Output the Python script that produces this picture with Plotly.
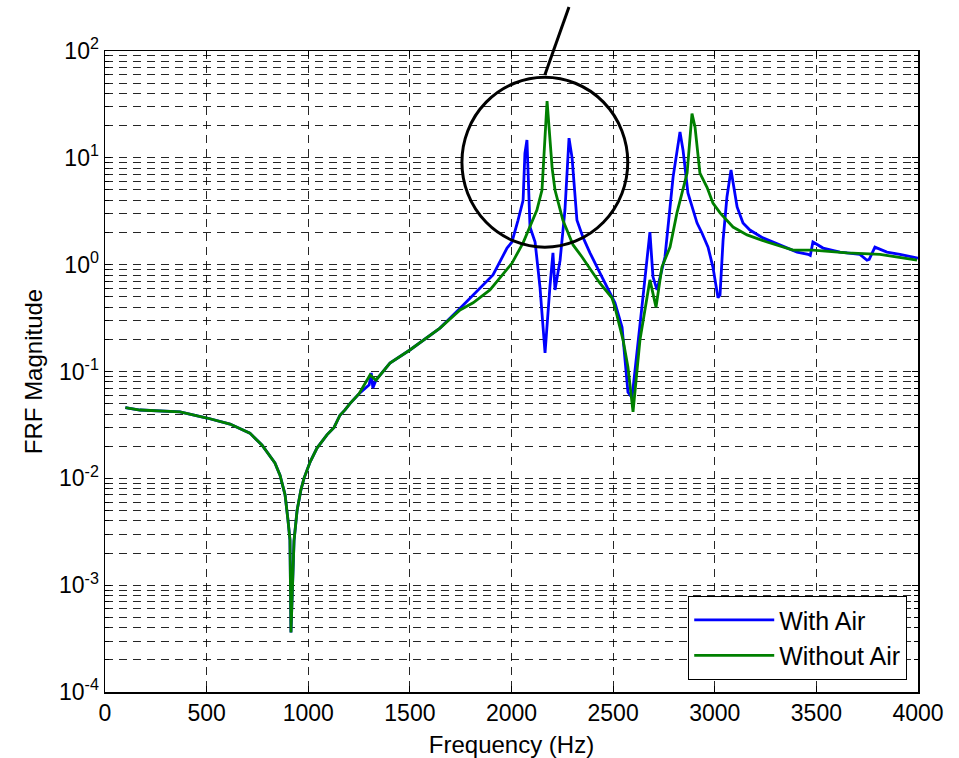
import plotly.graph_objects as go

# Shared low-frequency part (both curves coincide)
freq_low = [100, 172, 369, 502, 615, 713, 772, 836, 861, 886, 900, 910, 915,
            930, 945, 964, 979, 1009, 1043, 1092, 1127, 1156, 1181, 1205]
mag_low = [0.046, 0.0436, 0.0418, 0.0367, 0.0322, 0.0265, 0.0205, 0.0139, 0.0107,
           0.0070, 0.0041, 0.00265, 0.00036,
           0.0026, 0.005, 0.0078, 0.0100, 0.0142, 0.0192, 0.0255, 0.0300, 0.039, 0.0437, 0.0500]

# With Air (blue) beyond the shared part
freq_with = [1250, 1300, 1310, 1318, 1333, 1402, 1500, 1648, 1747, 1845, 1909, 1978,
             2002, 2032, 2057, 2066, 2076, 2091, 2116, 2140, 2165, 2189, 2204, 2214,
             2239, 2263, 2283, 2298, 2322, 2352, 2386, 2435, 2485, 2509, 2544, 2573, 2593,
             2622, 2647, 2681, 2696, 2716, 2755, 2795, 2814, 2829, 2844, 2868, 2913,
             2937, 2967, 2991, 3016, 3026, 3041, 3060, 3080, 3090, 3110, 3139, 3173,
             3237, 3321, 3405, 3459, 3470, 3483, 3533, 3616, 3714, 3749, 3760, 3788,
             3847, 3911, 4000]
mag_with = [0.062, 0.075, 0.097, 0.070, 0.083, 0.12, 0.159, 0.255, 0.39, 0.60, 0.80, 1.43,
            1.63, 2.6, 4.0, 11.0, 14.7, 2.25, 1.63, 0.62, 0.149, 0.62, 1.29, 0.58,
            1.10, 3.25, 15.3, 10.0, 2.6, 1.8, 1.29, 0.84, 0.54, 0.44, 0.26, 0.064, 0.057,
            0.17, 0.50, 2.02, 0.77, 0.58, 1.18, 6.6, 11.8, 17.5, 11.8, 4.7, 2.45,
            1.98, 1.46, 0.95, 0.49, 0.52, 1.7, 4.3, 7.7, 5.8, 3.47, 2.45, 2.11,
            1.78, 1.53, 1.31, 1.25, 1.22, 1.63, 1.43, 1.31, 1.25, 1.10, 1.12, 1.46,
            1.31, 1.25, 1.15]

# Without Air (green) beyond the shared part
freq_without = [1250, 1304, 1333, 1402, 1500, 1648, 1747, 1811, 1894, 1968, 2002, 2057,
                2091, 2125, 2150, 2175, 2200, 2214, 2253, 2303, 2347, 2435, 2494, 2509,
                2549, 2573, 2598, 2632, 2681, 2711, 2740, 2780, 2814, 2864, 2888, 2903,
                2927, 2962, 2991, 3026, 3090, 3159, 3257, 3385, 3483, 3651, 3813, 3995]
mag_without = [0.062, 0.0927, 0.083, 0.12, 0.159, 0.255, 0.377, 0.44, 0.58, 0.85, 1.03, 1.6,
               2.25, 3.25, 5.0, 34.0, 8.0, 5.0, 2.6, 1.53, 1.18, 0.67, 0.49, 0.40,
               0.197, 0.11, 0.042, 0.197, 0.72, 0.40, 0.95, 1.46, 3.05, 7.2, 26.0, 19.4,
               7.2, 5.3, 3.78, 3.05, 2.25, 1.90, 1.63, 1.37, 1.37, 1.29, 1.25, 1.10]

series_names = ["With Air", "Without Air"]
series_colors = ["#0000FF", "#008000"]

x_tick_vals = [0, 500, 1000, 1500, 2000, 2500, 3000, 3500, 4000]
decades = [-4, -3, -2, -1, 0, 1, 2]
y_major_vals = [10.0 ** d for d in decades]
y_major_text = ["10<sup>%d</sup>" % d for d in decades]
y_minor_vals = [m * 10.0 ** d for d in decades[:-1] for m in range(2, 10)]

FONT = "Liberation Sans, Arial, sans-serif"

fig = go.Figure()
fig.add_trace(go.Scatter(x=freq_low + freq_with, y=mag_low + mag_with, mode="lines",
                         name=series_names[0], line=dict(color=series_colors[0], width=2.8)))
fig.add_trace(go.Scatter(x=freq_low + freq_without, y=mag_low + mag_without, mode="lines",
                         name=series_names[1], line=dict(color=series_colors[1], width=2.8)))

grid_color = "rgba(0,0,0,0.85)"
fig.update_layout(
    width=959, height=758,
    margin=dict(l=105, r=41, t=51, b=66, autoexpand=False),
    paper_bgcolor="white", plot_bgcolor="white",
    font=dict(family=FONT, size=23, color="black"),
    showlegend=True,
    legend=dict(x=0.9865, y=0.0187, xanchor="right", yanchor="bottom",
                bgcolor="white", bordercolor="black", borderwidth=1.2,
                font=dict(size=25), itemwidth=80, tracegroupgap=0),
    xaxis=dict(range=[0, 4000], tickmode="array", tickvals=x_tick_vals,
               automargin=False,
               showline=True, linecolor="black", linewidth=1.5, mirror="allticks",
               ticks="inside", ticklen=6, tickcolor="black",
               showgrid=True, gridcolor=grid_color, gridwidth=1, griddash="8px,6px",
               zeroline=False, tickfont=dict(size=23),
               title=dict(text="Frequency (Hz)", font=dict(size=24), standoff=15)),
    yaxis=dict(type="log", range=[-4, 2], tickmode="array", tickvals=y_major_vals,
               ticktext=y_major_text, automargin=False,
               showline=True, linecolor="black", linewidth=1.5, mirror="allticks",
               ticks="inside", ticklen=6, tickcolor="black",
               showgrid=True, gridcolor=grid_color, gridwidth=1, griddash="8px,6px",
               zeroline=False, tickfont=dict(size=23),
               minor=dict(tickmode="array", tickvals=y_minor_vals, ticks="inside",
                          ticklen=4, tickcolor="black", showgrid=True,
                          gridcolor=grid_color, gridwidth=1, griddash="8px,6px"),
               title=dict(text="FRF Magnitude", font=dict(size=24), standoff=9)),
)

# Annotation: circle around first peak region and pointer line
fig.add_shape(type="circle", xref="paper", yref="paper",
              x0=0.439, x1=0.643, y0=0.694, y1=0.959,
              line=dict(color="black", width=3))
fig.add_shape(type="line", xref="paper", yref="paper",
              x0=0.541, y0=0.9626, x1=0.5707, y1=1.0686,
              line=dict(color="black", width=3))

# Remove the default page margin so the 959x758 figure fills the window exactly.
page_css = ("document.body.style.margin='0';document.body.style.padding='0';"
            "document.body.style.overflow='hidden';"
            "document.documentElement.style.overflow='hidden';")
fig.write_html("out.html", post_script=page_css,
               config={"displayModeBar": False, "staticPlot": True})
